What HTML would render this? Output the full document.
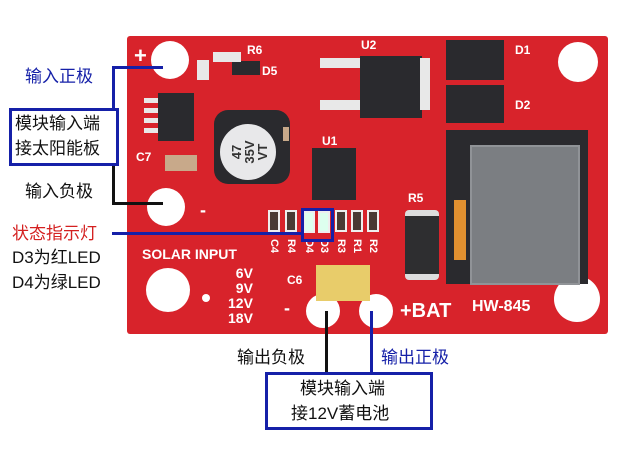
<!DOCTYPE html>
<html><head><meta charset="utf-8"><style>
body{margin:0;width:619px;height:463px;background:#fff;position:relative;overflow:hidden;font-family:"Liberation Sans","Noto Sans CJK SC",sans-serif}
div{position:absolute;box-sizing:border-box}
.h{background:#fff;border-radius:50%}
.w{color:#fff;font-weight:bold}
.blk{background:#2a2a2e}
.pad{background:#e8e8e8}
.t{color:#111;font-size:17px;white-space:nowrap;line-height:1}
.r{background:#4a3a34;border:2px solid #eee;width:12px;height:22px}
.v{color:#fff;font-weight:bold;font-size:11px;transform:rotate(90deg);width:16px;text-align:center;top:240px}
</style></head><body>
<div style="left:127px;top:36px;width:481px;height:298px;background:#d8232b;border-radius:3px"></div>
<div class="h" style="left:151px;top:41px;width:38px;height:38px"></div>
<div class="h" style="left:558px;top:42px;width:40px;height:40px"></div>
<div class="h" style="left:147px;top:188px;width:38px;height:38px"></div>
<div class="h" style="left:146px;top:268px;width:44px;height:44px"></div>
<div class="h" style="left:554px;top:276px;width:46px;height:46px"></div>
<div class="h" style="left:306px;top:294px;width:34px;height:34px"></div>
<div class="h" style="left:359px;top:294px;width:34px;height:34px"></div>
<div class="h" style="left:202px;top:294px;width:8px;height:8px"></div>
<div class="w" style="left:134px;top:43px;font-size:22px">+</div>
<div class="w" style="left:200px;top:200px;font-size:18px">-</div>
<div class="w" style="left:142px;top:246px;font-size:14px">SOLAR INPUT</div>
<div class="w" style="left:228px;top:266px;font-size:14px;line-height:15px;text-align:right">6V<br>9V<br>12V<br>18V</div>
<div class="w" style="left:287px;top:273px;font-size:12px">C6</div>
<div class="w" style="left:284px;top:298px;font-size:18px">-</div>
<div class="w" style="left:400px;top:300px;font-size:20px">+BAT</div>
<div class="w" style="left:472px;top:298px;font-size:16px">HW-845</div>
<div class="w" style="left:361px;top:38px;font-size:12px">U2</div>
<div class="w" style="left:515px;top:43px;font-size:12px">D1</div>
<div class="w" style="left:515px;top:98px;font-size:12px">D2</div>
<div class="w" style="left:322px;top:134px;font-size:12px">U1</div>
<div class="w" style="left:408px;top:191px;font-size:12px">R5</div>
<div class="w" style="left:247px;top:43px;font-size:12px">R6</div>
<div class="w" style="left:262px;top:64px;font-size:12px">D5</div>
<div class="w" style="left:136px;top:150px;font-size:12px">C7</div>
<div class="v" style="left:266px">C4</div>
<div class="v" style="left:283px">R4</div>
<div class="v" style="left:301px">D4</div>
<div class="v" style="left:316px">D3</div>
<div class="v" style="left:333px">R3</div>
<div class="v" style="left:349px">R1</div>
<div class="v" style="left:365px">R2</div>
<div class="blk" style="left:232px;top:61px;width:28px;height:14px"></div>
<div class="pad" style="left:213px;top:52px;width:28px;height:10px"></div>
<div class="pad" style="left:197px;top:60px;width:12px;height:20px"></div>
<div class="blk" style="left:158px;top:93px;width:36px;height:48px"></div>
<div class="pad" style="left:144px;top:98px;width:14px;height:5px"></div>
<div class="pad" style="left:144px;top:108px;width:14px;height:5px"></div>
<div class="pad" style="left:144px;top:118px;width:14px;height:5px"></div>
<div class="pad" style="left:144px;top:128px;width:14px;height:5px"></div>
<div style="left:165px;top:155px;width:32px;height:16px;background:#c8a98a"></div>
<div class="blk" style="left:214px;top:110px;width:76px;height:74px;border-radius:14px"></div>
<div style="left:220px;top:124px;width:56px;height:56px;border-radius:50%;background:#e8e8ea;color:#333;font-size:13px;font-weight:bold;text-align:center;padding-top:10px;line-height:13px;transform:rotate(-90deg)">47<br>35V<br>VT</div>
<div style="left:283px;top:127px;width:6px;height:14px;background:#c8a98a"></div>
<div class="blk" style="left:312px;top:148px;width:44px;height:52px"></div>
<div class="blk" style="left:360px;top:56px;width:62px;height:62px"></div>
<div class="pad" style="left:420px;top:58px;width:10px;height:52px"></div>
<div class="pad" style="left:320px;top:58px;width:40px;height:10px"></div>
<div class="pad" style="left:320px;top:100px;width:40px;height:10px"></div>
<div class="blk" style="left:446px;top:40px;width:58px;height:40px"></div>
<div class="blk" style="left:446px;top:85px;width:58px;height:38px"></div>
<div class="blk" style="left:446px;top:130px;width:142px;height:154px"></div>
<div style="left:470px;top:145px;width:110px;height:140px;background:#7b7e82;border:2px solid #909397"></div>
<div style="left:454px;top:200px;width:12px;height:60px;background:#e09030"></div>
<div style="left:405px;top:210px;width:34px;height:70px;background:#2e2e30;border-radius:4px;border-top:6px solid #ddd;border-bottom:6px solid #ddd"></div>
<div style="left:316px;top:265px;width:54px;height:36px;background:#e8cc6a"></div>
<div class="r" style="left:268px;top:210px"></div>
<div class="r" style="left:285px;top:210px"></div>
<div class="r" style="left:303px;top:211px;background:#dfe"></div>
<div class="r" style="left:318px;top:211px;background:#dfe"></div>
<div class="r" style="left:335px;top:210px"></div>
<div class="r" style="left:351px;top:210px"></div>
<div class="r" style="left:367px;top:210px"></div>
<div style="left:112px;top:66px;width:51px;height:3px;background:#1520a8"></div>
<div style="left:112px;top:66px;width:3px;height:43px;background:#1520a8"></div>
<div style="left:112px;top:165px;width:3px;height:40px;background:#111"></div>
<div style="left:112px;top:202px;width:51px;height:3px;background:#111"></div>
<div style="left:112px;top:232px;width:190px;height:3px;background:#1520a8"></div>
<div style="left:301px;top:208px;width:33px;height:34px;border:3px solid #1520a8"></div>
<div style="left:325px;top:311px;width:3px;height:62px;background:#111"></div>
<div style="left:370px;top:311px;width:3px;height:62px;background:#1520a8"></div>
<div class="t" style="left:25px;top:68px;color:#1520a8">输入正极</div>
<div style="left:9px;top:108px;width:110px;height:58px;border:3px solid #1520a8"></div>
<div class="t" style="left:15px;top:115px">模块输入端</div>
<div class="t" style="left:15px;top:140px">接太阳能板</div>
<div class="t" style="left:25px;top:183px">输入负极</div>
<div class="t" style="left:12px;top:225px;color:#d42020">状态指示灯</div>
<div class="t" style="left:12px;top:249px">D3为红LED</div>
<div class="t" style="left:12px;top:274px">D4为绿LED</div>
<div class="t" style="left:237px;top:349px">输出负极</div>
<div class="t" style="left:381px;top:349px;color:#1520a8">输出正极</div>
<div style="left:265px;top:372px;width:168px;height:58px;border:3px solid #1520a8"></div>
<div class="t" style="left:300px;top:380px">模块输入端</div>
<div class="t" style="left:291px;top:405px">接12V蓄电池</div>
</body></html>
